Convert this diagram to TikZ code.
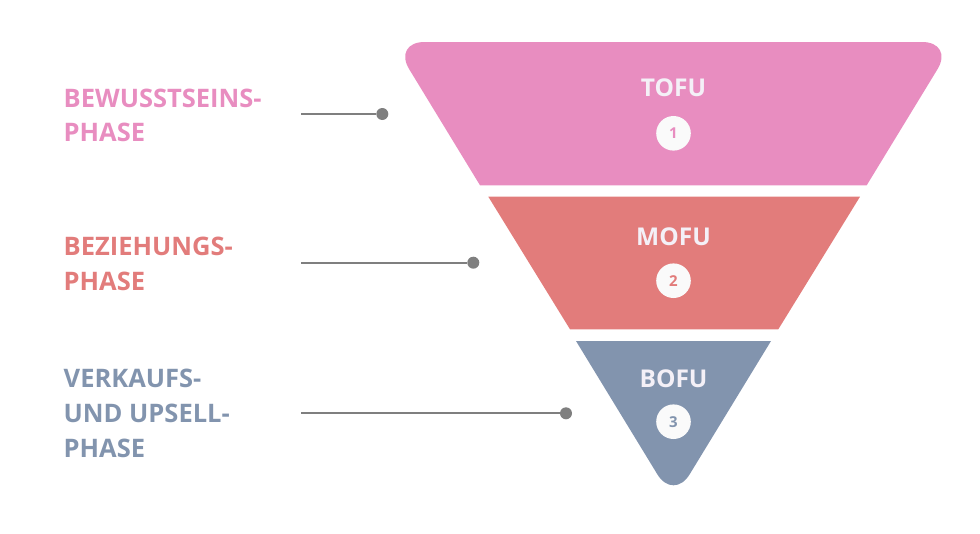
\documentclass[tikz,border=0pt]{standalone}
\usepackage{fontspec}
\setsansfont{Open Sans}
\usepackage{tikz}
\usetikzlibrary{positioning,calc}
\definecolor{ink}     {HTML}{7F7F7F}
\definecolor{tofucol} {HTML}{E88DC0}
\definecolor{mofucol} {HTML}{E27C7B}
\definecolor{bofucol} {HTML}{8294AE}
\definecolor{paper}   {HTML}{FAFAFA}
\definecolor{capt}    {HTML}{F4F0F7}
\tikzset{
  every node/.style={font=\sffamily\bfseries},
  % --- nodes
  stage/.style = {inner sep=0pt, text=capt,
                  font=\sffamily\bfseries\fontsize{24.5}{29}\selectfont},
  num/.style   = {circle, fill=paper, minimum size=34.6pt, inner sep=0pt,
                  font=\sffamily\bfseries\fontsize{15}{17}\selectfont},
  phase/.style = {inner sep=0pt, align=left,
                  font=\sffamily\bfseries\fontsize{25.5}{34.7}\selectfont},
  dot/.style   = {circle, fill=ink, minimum size=12pt, inner sep=0pt},
  % --- edges
  conn/.style  = {draw=ink, line width=2pt},
}
\begin{document}
\begin{tikzpicture}[x=1pt,y=-1pt]
  \useasboundingbox (0,0) rectangle (980,533);
  % funnel
  \fill[tofucol] (480,185.3) [rounded corners=32pt] -- (392.6,42) -- (954.1,42)
    [sharp corners] -- (866.7,185.3) -- cycle;
  \fill[mofucol] (488.3,196.7) -- (860,196.7) -- (778.3,329.3) -- (570,329.3) -- cycle;
  \fill[bofucol] (576,341) [rounded corners=31pt] -- (673.5,500.8)
    [sharp corners] -- (771,341) -- cycle;
  % stage names and numbers
  \foreach \i/\t/\b/\c/\col in {
    1/TOFU/96.7/133.3/tofucol,
    2/MOFU/245.7/280.7/mofucol,
    3/BOFU/387.3/421.7/bofucol}
  {
    \node[stage, anchor=base] (st\i) at (673.5,\b) {\t};
    \node[num, text=\col] (n\i) at (673.5,\c) {\i};
  }
  % phases (base = last line)
  \node[phase, text=tofucol, anchor=base west] (ph1) at (63.5,141.7)
    {BEWUSSTSEINS-\\PHASE};
  \node[phase, text=mofucol, anchor=base west] (ph2) at (63.5,290)
    {BEZIEHUNGS-\\PHASE};
  \node[phase, text=bofucol, anchor=base west] (ph3) at (63.5,457)
    {VERKAUFS-\\UND UPSELL-\\PHASE};
  % connectors
  \foreach \i/\x/\y in {1/382.3/114, 2/473.3/262.7, 3/566/413.3}
  {
    \coordinate (s\i) at (301,\y);
    \node[dot] (d\i) at (\x,\y) {};
    \draw[conn] (s\i) -- (d\i);
  }
\end{tikzpicture}
\end{document}
